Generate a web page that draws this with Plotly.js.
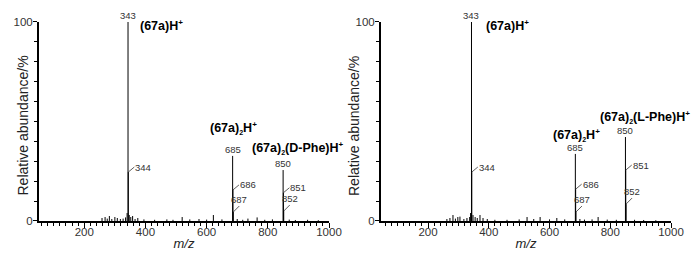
<!DOCTYPE html>
<html>
<head>
<meta charset="utf-8">
<script src="https://cdn.plot.ly/plotly-3.0.1.min.js"></script>
<style>
  html, body { margin: 0; padding: 0; background: #fff; }
  #chart { width: 692px; height: 257px; }
</style>
</head>
<body>
<div id="chart"></div>
<script>
// Data

// Panel a - labelled peaks (m/z, relative abundance %)
const peaksA_mz = [343, 344, 685, 686, 687, 850, 851, 852];
const peaksA_int = [100, 24.6, 32.7, 15.6, 4.5, 25.6, 14.2, 5];

// Panel a - small background peaks
const noiseA_mz = [258, 268, 275, 282, 290, 300, 308, 318, 327, 335, 340, 347, 352, 358, 366, 375, 395, 430, 470, 490, 520, 545, 575, 600, 622, 650, 700, 718, 735, 765, 790, 815, 870, 890, 930, 965];
const noiseA_int = [1.5, 2, 1.2, 2.5, 1, 2, 1.5, 1, 1.2, 1.8, 4, 3, 2, 2.5, 1, 1.5, 0.8, 0.6, 0.8, 0.6, 2, 0.8, 1, 0.7, 3, 0.8, 1, 0.6, 1.2, 1.8, 0.6, 0.8, 0.7, 0.5, 0.6, 0.4];

// Panel b - labelled peaks
const peaksB_mz = [343, 344, 685, 686, 687, 850, 851, 852];
const peaksB_int = [100, 24.6, 33.7, 16, 4.5, 42.2, 25.6, 8.5];

// Panel b - small background peaks
const noiseB_mz = [262, 272, 282, 290, 298, 305, 318, 328, 337, 340, 348, 355, 362, 371, 381, 395, 420, 460, 500, 526, 548, 569, 600, 624, 650, 700, 715, 740, 760, 790, 820, 880, 910, 950];
const noiseB_int = [1, 1.5, 3, 1.2, 2, 2.2, 1, 1.5, 2, 4, 3, 2, 1.5, 3, 1.5, 1, 0.6, 0.6, 0.8, 2, 1, 2, 0.8, 1.5, 0.8, 1, 0.7, 0.8, 2, 0.7, 0.6, 0.6, 0.5, 0.4];

// Axis ticks
const xTicks = [200, 400, 600, 800, 1000];
const yTicks = [0, 100];

// Ion labels (small sub/superscripts like the original)
const SUB2 = "<sub><span style='font-size:7px'>2</span></sub>";
const SUPP = "<sup><span style='font-size:8px'>+</span></sup>";
const ionLabelsA = ["(67a)H" + SUPP, "(67a)" + SUB2 + "H" + SUPP, "(67a)" + SUB2 + "(D-Phe)H" + SUPP];
const ionLabelsB = ["(67a)H" + SUPP, "(67a)" + SUB2 + "H" + SUPP, "(67a)" + SUB2 + "(L-Phe)H" + SUPP];

// Helpers

// Turn m/z + intensity lists into vertical sticks separated by nulls
const buildSticks = function (mz, intensity) {
  let xs = [];
  let ys = [];
  for (let i = 0; i < mz.length; i++) {
    xs.push(mz[i], mz[i], null);
    ys.push(0, intensity[i], null);
  }
  return { x: xs, y: ys };
};

const stickTrace = function (mz, intensity, xaxis, yaxis) {
  const s = buildSticks(mz, intensity);
  return {
    x: s.x,
    y: s.y,
    xaxis: xaxis,
    yaxis: yaxis,
    type: "scatter",
    mode: "lines",
    line: { color: "#000", width: 1 },
    hoverinfo: "skip",
    showlegend: false,
  };
};

// Fonts
const numFont = { family: "Liberation Sans, Arial", size: 9.5, color: "#333" };
const ionFont = { family: "Liberation Sans, Arial", size: 12.5, color: "#000" };

// Number sitting on top of a peak
const topLabel = function (mz, intensity, xref, yref) {
  return {
    x: mz, y: intensity, xref: xref, yref: yref,
    text: String(mz), showarrow: false,
    xanchor: "center", yanchor: "bottom", yshift: -1,
    font: numFont,
  };
};

// Number with a short leader to the right of a peak
const sideLabel = function (mz, intensity, xref, yref) {
  return {
    x: mz, y: intensity, xref: xref, yref: yref,
    text: String(mz), showarrow: true,
    arrowhead: 0, arrowwidth: 0.8, arrowcolor: "#333",
    ax: 6, ay: -5, xanchor: "left", yanchor: "middle",
    standoff: 0, startstandoff: 0, borderpad: 0,
    font: numFont,
  };
};

// Number above a short leader (isotope peaks near the base)
const lowLabel = function (mz, intensity, xref, yref) {
  return {
    x: mz, y: intensity, xref: xref, yref: yref,
    text: String(mz), showarrow: true,
    arrowhead: 0, arrowwidth: 0.8, arrowcolor: "#333",
    ax: 6, ay: -6, xanchor: "center", yanchor: "bottom",
    standoff: 0, startstandoff: 0, borderpad: 0,
    font: numFont,
  };
};

const panelAnnotations = function (mz, intensity, xref, yref) {
  return [
    topLabel(mz[0], intensity[0], xref, yref),
    sideLabel(mz[1], intensity[1], xref, yref),
    topLabel(mz[2], intensity[2], xref, yref),
    sideLabel(mz[3], intensity[3], xref, yref),
    lowLabel(mz[4], intensity[4], xref, yref),
    topLabel(mz[5], intensity[5], xref, yref),
    sideLabel(mz[6], intensity[6], xref, yref),
    lowLabel(mz[7], intensity[7], xref, yref),
  ];
};

const ionAnnotation = function (text, x, y, xref, yref) {
  return {
    x: x, y: y, xref: xref, yref: yref, text: text,
    showarrow: false, xanchor: "left", yanchor: "middle",
    font: Object.assign({ weight: "bold" }, ionFont),
  };
};

// Axes

const xAxisBase = function (domain, range) {
  return {
    domain: domain,
    range: range,
    tickmode: "array",
    tickvals: xTicks,
    ticks: "outside",
    ticklen: 5,
    tickwidth: 1,
    tickcolor: "#000",
    ticklabelstandoff: -6,
    minor: { tickmode: "linear", tick0: 0, dtick: 20, ticks: "outside", ticklen: 3, tickcolor: "#000" },
    showline: true,
    linecolor: "#000",
    linewidth: 2,
    showgrid: false,
    zeroline: false,
    tickfont: { family: "Liberation Sans, Arial", size: 11.5, color: "#333" },
    title: { text: "<i>m/z</i>", standoff: 2, font: { family: "Liberation Sans, Arial", size: 13, color: "#222" } },
    automargin: false,
    fixedrange: true,
  };
};

const yAxisBase = function (anchor) {
  return {
    domain: [0.1401, 0.9144],
    range: [0, 100],
    anchor: anchor,
    tickmode: "array",
    tickvals: yTicks,
    ticks: "outside",
    ticklen: 4,
    tickcolor: "#000",
    ticklabelstandoff: -2,
    minor: { tickmode: "linear", tick0: 0, dtick: 10, ticks: "outside", ticklen: 3, tickcolor: "#000" },
    showline: true,
    linecolor: "#000",
    linewidth: 2,
    showgrid: false,
    zeroline: false,
    tickfont: { family: "Liberation Sans, Arial", size: 11.5, color: "#333" },
    automargin: false,
    fixedrange: true,
  };
};

// Plot

const drawChart = function () {
  const data = [
    stickTrace(noiseA_mz, noiseA_int, "x", "y"),
    stickTrace(peaksA_mz, peaksA_int, "x", "y"),
    stickTrace(noiseB_mz, noiseB_int, "x2", "y2"),
    stickTrace(peaksB_mz, peaksB_int, "x2", "y2"),
  ];

  let annotations = []
    .concat(panelAnnotations(peaksA_mz, peaksA_int, "x", "y"))
    .concat(panelAnnotations(peaksB_mz, peaksB_int, "x2", "y2"));

  // Ion assignments
  annotations.push(ionAnnotation(ionLabelsA[0], 375, 98, "x", "y"));
  annotations.push(ionAnnotation(ionLabelsA[1], 604, 46.7, "x", "y"));
  annotations.push(ionAnnotation(ionLabelsA[2], 741, 36.7, "x", "y"));
  annotations.push(ionAnnotation(ionLabelsB[0], 384, 98, "x2", "y2"));
  annotations.push(ionAnnotation(ionLabelsB[1], 605, 43.2, "x2", "y2"));
  annotations.push(ionAnnotation(ionLabelsB[2], 758, 52.3, "x2", "y2"));

  // Panel letters
  const letterFont = { family: "Liberation Serif, Times New Roman", size: 15, color: "#000", weight: "bold" };
  annotations.push({ x: 947, y: 102.5, xref: "x", yref: "y", text: "a", showarrow: false, font: letterFont });
  annotations.push({ x: 957, y: 102.5, xref: "x2", yref: "y2", text: "b", showarrow: false, font: letterFont });

  // Y axis titles
  const yTitleFont = { family: "Liberation Sans, Arial", size: 14, color: "#222" };
  annotations.push({ x: 12.5 / 692, y: 1 - 126 / 257, xref: "paper", yref: "paper", text: "Relative abundance/%", textangle: -90, showarrow: false, font: yTitleFont });
  annotations.push({ x: 354 / 692, y: 1 - 126 / 257, xref: "paper", yref: "paper", text: "Relative abundance/%", textangle: -90, showarrow: false, font: yTitleFont });

  const layout = {
    width: 692,
    height: 257,
    margin: { l: 0, r: 0, t: 0, b: 0 },
    paper_bgcolor: "#fff",
    plot_bgcolor: "#fff",
    showlegend: false,
    xaxis: Object.assign(xAxisBase([39 / 692, 329 / 692], [52, 1000]), { anchor: "y" }),
    yaxis: yAxisBase("x"),
    xaxis2: Object.assign(xAxisBase([381 / 692, 671 / 692], [45, 1000]), { anchor: "y2" }),
    yaxis2: yAxisBase("x2"),
    annotations: annotations,
    dragmode: false,
  };

  Plotly.newPlot("chart", data, layout, {
    displayModeBar: false,
    staticPlot: true,
  });
};

// Init

drawChart();
</script>
</body>
</html>
